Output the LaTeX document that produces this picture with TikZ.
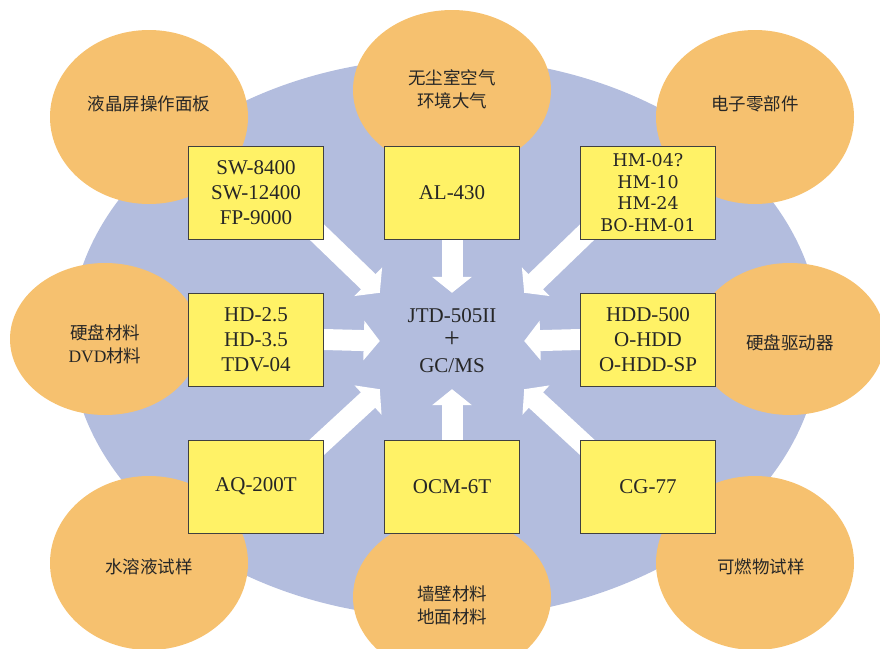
\documentclass[tikz,border=0pt]{standalone}
\usepackage{fontspec}
\setmainfont{Liberation Serif}
\newfontfamily\cjk{Noto Sans CJK SC}
\newfontfamily\hmfont{DejaVu Serif}
\usetikzlibrary{shapes.geometric, arrows.meta}

\definecolor{discblue}{HTML}{B3BDDE}
\definecolor{podorange}{HTML}{F6C16F}
\definecolor{kityellow}{HTML}{FFF266}
\definecolor{inkgray}{HTML}{262626}

\pgfdeclarelayer{bg}
\pgfdeclarelayer{mid}
\pgfsetlayers{bg,mid,main}

\begin{document}
\begin{tikzpicture}[x=1pt, y=-1pt,
  disc/.style={ellipse, fill=discblue, minimum width=750pt, minimum height=560pt, inner sep=0pt},
  pod/.style={ellipse, fill=podorange, minimum width=198pt, minimum height=174pt, inner sep=0pt},
  tag/.style={font=\cjk\fontsize{17.5}{23}\selectfont, align=center, text=inkgray},
  kit/.style={draw=black!75, line width=0.8pt, fill=kityellow, minimum width=135pt, minimum height=93pt, inner sep=0pt, align=center, font=\fontsize{21}{25}\selectfont, text=inkgray},
  hub/.style={minimum width=144pt, minimum height=96pt, inner sep=0pt, align=center, font=\fontsize{21}{25}\selectfont, text=inkgray},
  flow/.style={white, line width=21pt, -{Triangle[length=16pt, width=39pt]}}
]
\useasboundingbox (0,0) rectangle (880,648);

% Background
\begin{pgfonlayer}{bg}
\node[disc] (disc) at (445,338) {};
\end{pgfonlayer}

% Sample types
\node[pod, label={[tag, yshift=13pt]center:液晶屏操作面板}] (lcd) at (149,117) {};
\node[pod, minimum height=160pt, label={[tag, yshift=1pt]center:无尘室空气\\环境大气}] (air) at (452,90) {};
\node[pod, label={[tag, yshift=13pt]center:电子零部件}] (elec) at (755,117) {};
\node[pod, minimum width=190pt, minimum height=152pt, label={[tag, yshift=-5pt]center:硬盘材料\\{\rmfamily DVD}材料}] (disk) at (105,339) {};
\node[pod, minimum width=190pt, minimum height=152pt, label={[tag, yshift=-4pt]center:硬盘驱动器}] (drive) at (790,339) {};
\node[pod, label={[tag, yshift=-4pt]center:水溶液试样}] (water) at (149,563) {};
\node[pod, minimum height=160pt, label={[tag, yshift=-8pt]center:墙壁材料\\地面材料}] (wall) at (452,597) {};
\node[pod, label={[tag, yshift=-4pt, xshift=6pt]center:可燃物试样}] (fuel) at (755,563) {};

% Samplers
\node[kit] (sw) at (256,192.5) {SW-8400\\SW-12400\\FP-9000};
\node[kit] (al) at (452,192.5) {AL-430};
\node[kit, font=\hmfont\fontsize{17.5}{21.5}\selectfont] (hm) at (648,192.5) {HM-04?\\HM-10\\HM-24\\BO-HM-01};
\node[kit] (hd) at (256,339.5) {HD-2.5\\HD-3.5\\TDV-04};
\node[kit] (hdd) at (648,339.5) {HDD-500\\O-HDD\\O-HDD-SP};
\node[kit] (aq) at (256,486.5) {AQ-200T};
\node[kit] (ocm) at (452,486.5) {OCM-6T};
\node[kit] (cg) at (648,486.5) {CG-77};

% Analyzer
\node[hub] (hub) at (452,341) {JTD-505II\\{\fontsize{28}{25}\selectfont +}\\GC/MS};

% Arrows
\begin{pgfonlayer}{mid}
\draw[flow] ([shift={(-15,-15)}]sw.south east) -- (hub.north west);
\draw[flow] (al.south) -- (hub.north);
\draw[flow] ([shift={(15,-15)}]hm.south west) -- (hub.north east);
\draw[flow] (hd.east) -- (hub.west);
\draw[flow] (hdd.west) -- (hub.east);
\draw[flow] ([shift={(-15,15)}]aq.north east) -- (hub.south west);
\draw[flow] (ocm.north) -- (hub.south);
\draw[flow] ([shift={(15,15)}]cg.north west) -- (hub.south east);
\end{pgfonlayer}

\end{tikzpicture}
\end{document}
